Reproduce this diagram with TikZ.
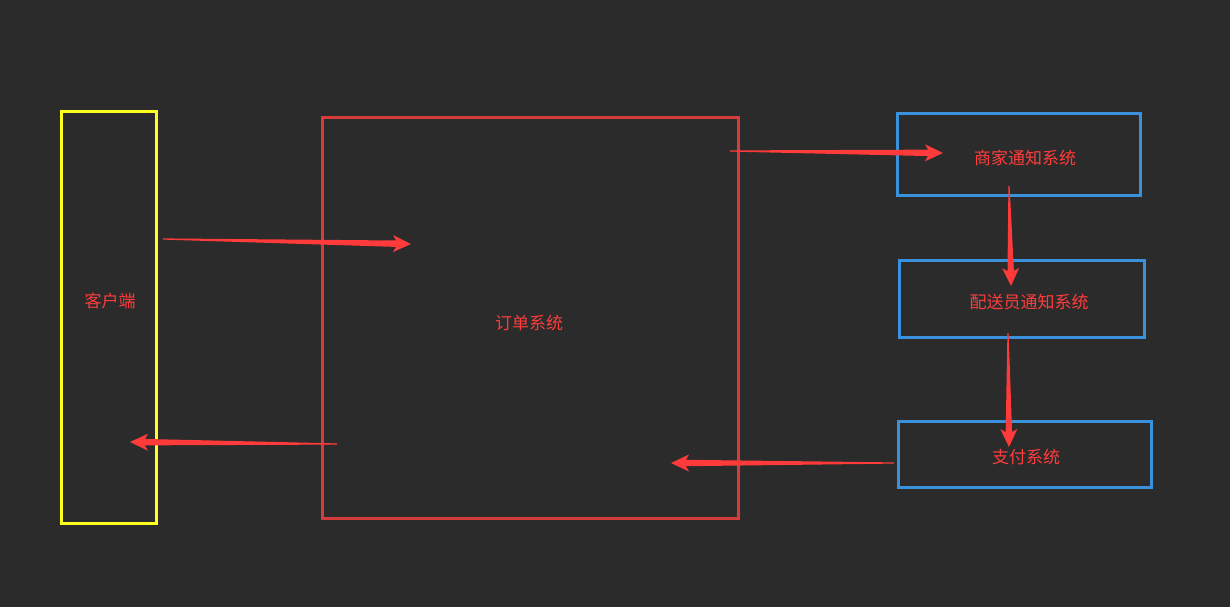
\documentclass[tikz,border=0pt]{standalone}
\usepackage{fontspec}
\newfontfamily\cjk{Noto Sans CJK SC}
\usetikzlibrary{calc}
\definecolor{bgc}{HTML}{2B2B2B}
\definecolor{yel}{HTML}{FFFF1E}
\definecolor{redbox}{HTML}{D63C3C}
\definecolor{bluebox}{HTML}{3A92DE}
\definecolor{arr}{HTML}{FF3A3A}
\definecolor{txt}{HTML}{FF3C3C}
\tikzset{
  box/.style={draw, line width=3pt},
  lbl/.style={text=txt, font=\cjk\fontsize{17pt}{19pt}\selectfont, inner sep=0pt},
}
\newcommand\taper[2]{%
  \coordinate (tb) at ($(#2)!18pt!(#1)$);
  \coordinate (tn) at ($(#2)!15pt!(#1)$);
  \fill[arr] ($(#1)!0.6pt!90:(#2)$) -- ($(tn)!3.2pt!90:(#2)$) -- ($(tb)!8.5pt!90:(#2)$) -- (#2)
    -- ($(tb)!8.5pt!-90:(#2)$) -- ($(tn)!3.2pt!-90:(#2)$) -- ($(#1)!0.6pt!-90:(#2)$) -- cycle;
}
\begin{document}
\begin{tikzpicture}[x=1pt,y=-1pt]
\fill[bgc] (0,0) rectangle (1230,607);
\useasboundingbox (0,0) rectangle (1230,607);
\draw[box, yel] (61,112) rectangle (156,523);
\draw[box, redbox] (322,118) rectangle (738,518);
\draw[box, bluebox] (897,114) rectangle (1140,195);
\draw[box, bluebox] (899,260) rectangle (1144,337);
\draw[box, bluebox] (898,421) rectangle (1151,487);
\node[lbl] (client) at (110,301) {客户端};
\node[lbl] (order) at (529,323) {订单系统};
\node[lbl] (merchant) at (1025,158) {商家通知系统};
\node[lbl] (courier) at (1029,302) {配送员通知系统};
\node[lbl] (pay) at (1026,457) {支付系统};
\coordinate (a1s) at (163,239); \coordinate (a1t) at (411,244);
\coordinate (a2s) at (337,444); \coordinate (a2t) at (130,442);
\coordinate (a3s) at (730,151); \coordinate (a3t) at (943,153);
\coordinate (a4s) at (1009,186); \coordinate (a4t) at (1011,286);
\coordinate (a5s) at (1008,333); \coordinate (a5t) at (1009,447);
\coordinate (a6s) at (894,463); \coordinate (a6t) at (671,463);
\taper{a1s}{a1t}
\taper{a2s}{a2t}
\taper{a3s}{a3t}
\taper{a4s}{a4t}
\taper{a5s}{a5t}
\taper{a6s}{a6t}
\end{tikzpicture}
\end{document}
